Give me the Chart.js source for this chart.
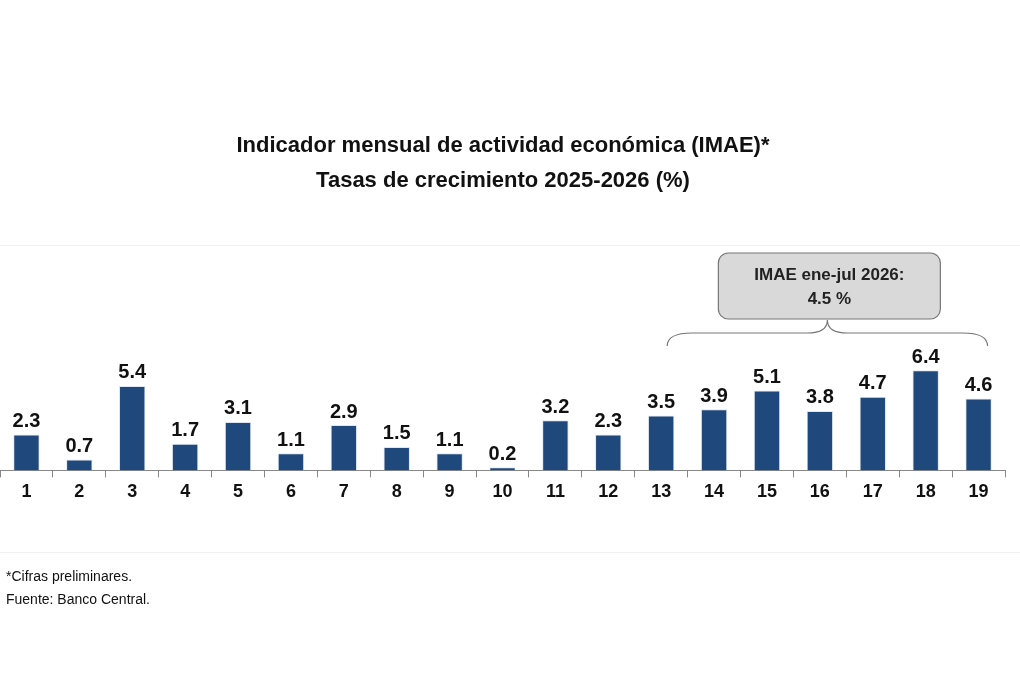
<!DOCTYPE html>
<html>
<head>
<meta charset="utf-8">
<script src="https://cdn.jsdelivr.net/npm/chart.js@4"></script>
<style>
  html, body { margin: 0; padding: 0; background: #fff; }
  #wrap { width: 1020px; height: 700px; position: relative; }
</style>
</head>
<body>
<div id="wrap"><canvas id="imae"></canvas></div>
<script>
const months = ['1','2','3','4','5','6','7','8','9','10','11','12','13','14','15','16','17','18','19'];
const growth = [2.3, 0.7, 5.4, 1.7, 3.1, 1.1, 2.9, 1.5, 1.1, 0.2, 3.2, 2.3, 3.5, 3.9, 5.1, 3.8, 4.7, 6.4, 4.6];
const titleLines = ['Indicador mensual de actividad económica (IMAE)*', 'Tasas de crecimiento 2025-2026 (%)'];
const notes = ['*Cifras preliminares.', 'Fuente: Banco Central.'];
const calloutLines = ['IMAE ene-jul 2026:', '4.5 %'];
const calloutFrom = 12, calloutTo = 18;

const FONT = 'Liberation Sans, Arial, sans-serif';

// titles, footnotes, value labels and the brace callout
const decor = {
    id: 'decor',
    afterDatasetsDraw(chart) {
        const ctx = chart.ctx;
        const x = chart.scales.x;
        const meta = chart.getDatasetMeta(0);
        ctx.save();

        // faint frame lines
        ctx.strokeStyle = '#f0f0f0';
        ctx.lineWidth = 1;
        ctx.beginPath();
        ctx.moveTo(0, 245.5); ctx.lineTo(1020, 245.5);
        ctx.moveTo(0, 552.5); ctx.lineTo(1020, 552.5);
        ctx.stroke();

        ctx.fillStyle = '#111';
        ctx.textAlign = 'center';
        ctx.textBaseline = 'middle';
        ctx.font = 'bold 22px ' + FONT;
        ctx.fillText(titleLines[0], 503, 146);
        ctx.fillText(titleLines[1], 503, 181);

        ctx.font = 'bold 20px ' + FONT;
        ctx.textBaseline = 'bottom';
        meta.data.forEach((bar, i) => {
            ctx.fillText(growth[i].toFixed(1), bar.x, bar.y - 3);
        });

        ctx.textAlign = 'left';
        ctx.textBaseline = 'middle';
        ctx.font = '14px ' + FONT;
        ctx.fillText(notes[0], 6, 577);
        ctx.fillText(notes[1], 6, 600);

        // brace over the callout range
        const bx0 = x.getPixelForValue(calloutFrom) + 6;
        const bx1 = x.getPixelForValue(calloutTo) + 9;
        const mid = (bx0 + bx1) / 2;
        const yb = 346, yt = 333;
        ctx.strokeStyle = '#777';
        ctx.lineWidth = 1.2;
        ctx.beginPath();
        ctx.moveTo(bx0, yb);
        ctx.quadraticCurveTo(bx0, yt, bx0 + 25, yt);
        ctx.lineTo(mid - 20, yt);
        ctx.quadraticCurveTo(mid, yt, mid, 320);
        ctx.quadraticCurveTo(mid, yt, mid + 20, yt);
        ctx.lineTo(bx1 - 25, yt);
        ctx.quadraticCurveTo(bx1, yt, bx1, yb);
        ctx.stroke();

        // callout box
        const w = 222, h = 66, left = mid - w / 2 + 2, top = 253;
        ctx.fillStyle = '#d9d9d9';
        ctx.strokeStyle = '#777';
        ctx.beginPath();
        ctx.roundRect(left, top, w, h, 10);
        ctx.fill();
        ctx.stroke();
        ctx.fillStyle = '#222';
        ctx.textAlign = 'center';
        ctx.font = 'bold 17px ' + FONT;
        ctx.fillText(calloutLines[0], left + w / 2, top + 22);
        ctx.fillText(calloutLines[1], left + w / 2, top + 46);

        ctx.restore();
    }
};

new Chart(document.getElementById('imae'), {
    type: 'bar',
    data: {
        labels: months,
        datasets: [{
            data: growth,
            backgroundColor: '#1f497d',
            borderColor: '#dfe6ef',
            borderWidth: 1,
            barPercentage: 0.5,
            categoryPercentage: 1.0
        }]
    },
    options: {
        responsive: true,
        maintainAspectRatio: false,
        animation: false,
        layout: { padding: { left: 0, right: 15, top: 245, bottom: 193 } },
        plugins: { legend: { display: false }, tooltip: { enabled: false } },
        scales: {
            x: {
                grid: { offset: true, drawOnChartArea: false, drawTicks: true, tickLength: 7, color: '#888' },
                border: { color: '#888' },
                ticks: { color: '#111', font: { family: FONT, size: 18, weight: 'bold' }, padding: 4 }
            },
            y: { display: false, min: 0, max: 14.4 }
        }
    },
    plugins: [decor]
});
</script>
</body>
</html>
